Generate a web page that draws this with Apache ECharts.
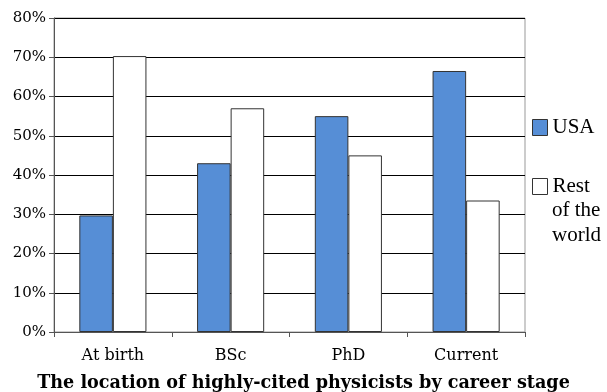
<!DOCTYPE html>
<html><head><meta charset="utf-8">
<script src="https://cdn.jsdelivr.net/npm/echarts@6/dist/echarts.min.js"></script>
<style>html,body{margin:0;padding:0;background:#fff}#c{width:607px;height:392px}</style>
</head><body><div id="c"></div>
<script>
const categories = ['At birth', 'BSc', 'PhD', 'Current'];
const usaValues = [29.7, 43, 55, 66.5];
const restValues = [70.3, 57, 45, 33.5];
const yTicks = [0, 10, 20, 30, 40, 50, 60, 70, 80];
const seriesNames = ['USA', 'Rest of the world'];
const titleText = 'The location of highly-cited physicists by career stage';

const chart = echarts.init(document.getElementById('c'));
const serif = 'DejaVu Serif';
chart.setOption({
  animation: false,
  backgroundColor: '#fff',
  grid: { left: 54, right: 82, top: 18, bottom: 60, show: true, borderColor: '#999', borderWidth: 1 },
  title: { text: titleText, left: 'center', bottom: 0, padding: 0,
    textStyle: { fontFamily: serif, fontSize: 17.6, fontWeight: 'bold', color: '#000' } },
  legend: [{
    data: [seriesNames[0]], orient: 'vertical', left: 532, top: 117, padding: 0,
    icon: 'rect', itemWidth: 15, itemHeight: 16,
    itemStyle: { borderWidth: 1, borderColor: '#333' },
    textStyle: { fontFamily: 'Liberation Serif', fontSize: 21, color: '#000' }
  }, {
    data: [seriesNames[1]], orient: 'vertical', left: 532, top: 176, padding: 0,
    icon: 'rect', itemWidth: 15, itemHeight: 16,
    itemStyle: { borderWidth: 1, borderColor: '#333' },
    formatter: () => 'Rest',
    textStyle: { fontFamily: 'Liberation Serif', fontSize: 21, color: '#000' }
  }],
  graphic: [{
    type: 'text', left: 552, top: 198,
    style: { text: 'of the\nworld', font: '21px "Liberation Serif"', fill: '#000', lineHeight: 25 }
  }],
  xAxis: {
    type: 'category', data: categories,
    axisLine: { lineStyle: { color: '#555', width: 1 } },
    axisTick: { show: true, length: 5, lineStyle: { color: '#555' } },
    axisLabel: { fontFamily: serif, fontSize: 16, color: '#000', margin: 16 }
  },
  yAxis: {
    type: 'value', min: 0, max: 80, interval: 10,
    axisLine: { show: true, lineStyle: { color: '#555' } },
    axisTick: { show: true, length: 5, lineStyle: { color: '#555' } },
    splitLine: { lineStyle: { color: '#000', width: 1 } },
    axisLabel: { fontFamily: serif, fontSize: 15, color: '#000', margin: 8, formatter: '{value}%' }
  },
  series: [{
    name: seriesNames[0], type: 'bar', data: usaValues, barGap: '0%', barCategoryGap: '43%',
    itemStyle: { color: '#568ED6', borderColor: '#333', borderWidth: 1 }
  }, {
    name: seriesNames[1], type: 'bar', data: restValues,
    itemStyle: { color: '#fff', borderColor: '#333', borderWidth: 1 }
  }]
});
</script></body></html>
